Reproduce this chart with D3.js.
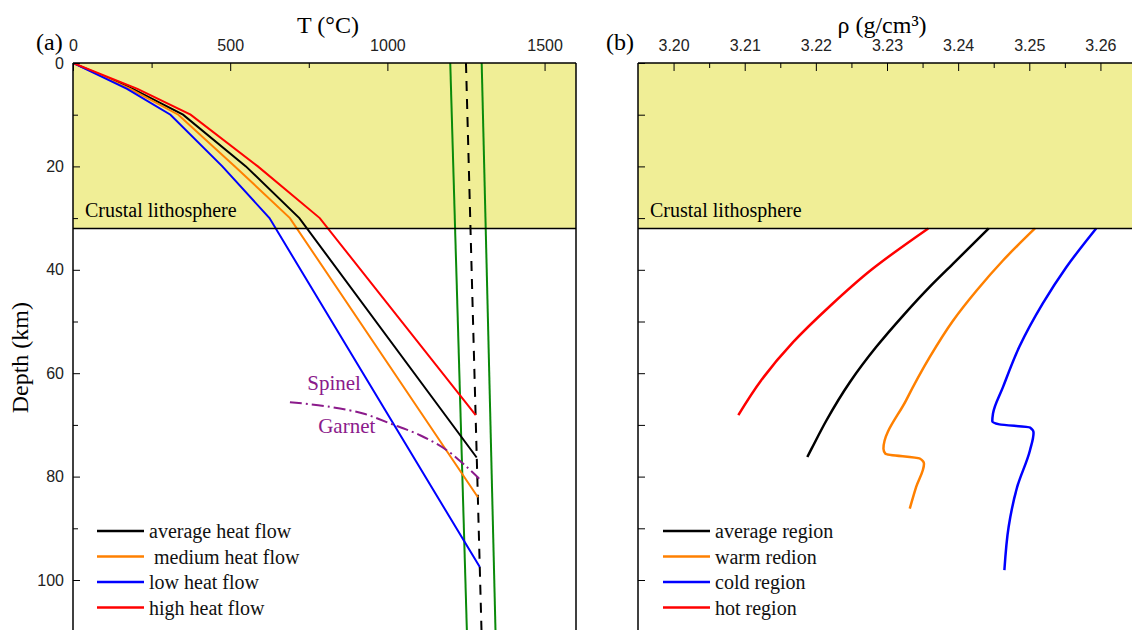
<!DOCTYPE html>
<html>
<head>
<meta charset="utf-8">
<script src="https://cdn.jsdelivr.net/npm/d3@7"></script>
<style>
  body { margin: 0; background: #fff; }
  svg { display: block; }
  .serif { font-family: "Liberation Serif", "Times New Roman", serif; }
  .tick text { font-family: "Liberation Sans", Arial, sans-serif; font-size: 16px; fill: #222; }
  .domain { display: none; }
</style>
</head>
<body>
<div id="chart"></div>
<script>
// ---- panel (a): temperature vs depth ----
const avgDepth  = [0, 5, 10, 20, 30, 76.3];
const avgTemp   = [0, 190, 350, 550, 720, 1284];
const medDepth  = [0, 5, 10, 20, 30, 84];
const medTemp   = [0, 182, 335, 515, 690, 1288];
const lowDepth  = [0, 5, 10, 20, 30, 97.5];
const lowTemp   = [0, 172, 310, 475, 625, 1294];
const highDepth = [0, 5, 10, 20, 30, 68.1];
const highTemp  = [0, 205, 374, 588, 785, 1281];

const spinelDepth = [65.6, 66.5, 67.8, 69.7, 72, 74.9, 78.1, 80.4];
const spinelTemp  = [690, 817, 923, 1008, 1104, 1189, 1252, 1292];

const adiabatDepth = [0, 110];
const adiabatLow   = [1200, 1253];
const adiabatMid   = [1250, 1299.5];
const adiabatHigh  = [1300, 1344];

const heatFlowNames = ['average heat flow', '\u00a0medium heat flow', 'low heat flow', 'high heat flow'];

// ---- panel (b): density vs depth ----
const avgRegDepth  = [32, 38.8, 43.3, 48.8, 54.9, 61.7, 69.1, 74.6, 76.2];
const avgRegRho    = [3.2443, 3.2393, 3.2360, 3.2323, 3.2285, 3.2248, 3.2215, 3.2194, 3.2188];
const warmRegDepth = [32, 38.2, 44, 49.8, 56.9, 65.2, 74.6, 75.6, 76.5, 77.5, 82, 86.2];
const warmRegRho   = [3.2508, 3.2463, 3.2426, 3.2393, 3.2360, 3.2327, 3.2295, 3.2298, 3.2346, 3.2352, 3.2341, 3.2332];
const coldRegDepth = [32, 39.5, 46.5, 54.9, 62.7, 67.8, 69.3, 69.9, 70.5, 71.5, 74.9, 82, 89.7, 98.1];
const coldRegRho   = [3.2594, 3.2552, 3.2519, 3.2486, 3.2463, 3.2449, 3.2448, 3.2458, 3.2501, 3.2506, 3.2501, 3.2483, 3.2471, 3.2465];
const hotRegDepth  = [32, 40, 47, 54, 61.4, 68.1];
const hotRegRho    = [3.2358, 3.2278, 3.2220, 3.2168, 3.2123, 3.2091];

const regionNames = ['average region', 'warm redion', 'cold region', 'hot region'];

const seriesColors = ['#000000', '#ff8000', '#0000ff', '#ff0000'];
const crustDepth = 32;

const tempTicks = [0, 500, 1000, 1500];
const rhoTicks = [3.20, 3.21, 3.22, 3.23, 3.24, 3.25, 3.26];
const depthTicks = [0, 20, 40, 60, 80, 100];

const width = 1132, height = 630;
const svg = d3.select('#chart').append('svg')
    .attr('width', width)
    .attr('height', height);

svg.append('rect').attr('width', width).attr('height', height).attr('fill', '#fff');

const y = d3.scaleLinear().domain([0, 110]).range([63, 63 + 5.17 * 110]);
const xT = d3.scaleLinear().domain([0, 1600]).range([73, 576]);
const xR = d3.scaleLinear().domain([3.195, 3.265]).range([638, 1136]);

const toPts = (ds, vs) => ds.map((d, i) => [vs[i], d]);

function drawPanel(x, id, fmt, majorTicks, minorTicks) {
    const [x0, x1] = x.range();
    const g = svg.append('g');

    g.append('clipPath').attr('id', id)
        .append('rect').attr('x', x0).attr('y', y(0)).attr('width', x1 - x0).attr('height', height - y(0));

    // crust band
    g.append('rect')
        .attr('x', x0).attr('y', y(0))
        .attr('width', x1 - x0).attr('height', y(crustDepth) - y(0))
        .attr('fill', '#f0ee96');

    const plot = g.append('g').attr('clip-path', `url(#${id})`);

    g.append('text')
        .attr('class', 'serif')
        .attr('x', x0 + 12).attr('y', y(crustDepth) - 11)
        .attr('font-size', 20)
        .text('Crustal lithosphere');

    // axes
    g.append('g')
        .attr('transform', `translate(0,${y(0)})`)
        .call(d3.axisTop(x).tickValues(majorTicks).tickFormat(fmt).tickSizeInner(-8).tickSizeOuter(0).tickPadding(12));
    g.append('g')
        .attr('transform', `translate(0,${y(0)})`)
        .call(d3.axisTop(x).tickValues(minorTicks).tickFormat('').tickSizeInner(-5).tickSizeOuter(0));

    return { g, plot, x0, x1 };
}

const minorT = [250, 750, 1250];
const minorR = [3.205, 3.215, 3.225, 3.235, 3.245, 3.255];

const pa = drawPanel(xT, 'clipA', d3.format('d'), tempTicks, minorT);
const pb = drawPanel(xR, 'clipB', d3.format('.2f'), rhoTicks, minorR);

// depth axes
pa.g.append('g')
    .attr('transform', `translate(${pa.x0},0)`)
    .call(d3.axisLeft(y).tickValues(depthTicks).tickSizeInner(-7).tickSizeOuter(0).tickPadding(9));
pa.g.append('g')
    .attr('transform', `translate(${pa.x0},0)`)
    .call(d3.axisLeft(y).tickValues([10, 30, 50, 70, 90, 110]).tickFormat('').tickSizeInner(-5).tickSizeOuter(0));
pb.g.append('g')
    .attr('transform', `translate(${pb.x0},0)`)
    .call(d3.axisLeft(y).tickValues(d3.range(0, 111, 10)).tickFormat('').tickSizeInner(-7).tickSizeOuter(0));

// frames
[pa, pb].forEach(p => {
    p.g.append('line').attr('x1', p.x0).attr('x2', p.x0).attr('y1', y(0)).attr('y2', height).attr('stroke', '#000').attr('stroke-width', 1.5);
    p.g.append('line').attr('x1', p.x1).attr('x2', p.x1).attr('y1', y(0)).attr('y2', height).attr('stroke', '#000').attr('stroke-width', 1.5);
    p.g.append('line').attr('x1', p.x0).attr('x2', p.x1).attr('y1', y(0)).attr('y2', y(0)).attr('stroke', '#000').attr('stroke-width', 1.5);
    p.g.append('line').attr('x1', p.x0).attr('x2', p.x1).attr('y1', y(crustDepth)).attr('y2', y(crustDepth)).attr('stroke', '#000').attr('stroke-width', 1.5);
});

// panel (a) lines
const lineT = d3.line().x(d => xT(d[0])).y(d => y(d[1]));

pa.plot.append('path').datum(toPts(adiabatDepth, adiabatLow))
    .attr('d', lineT).attr('fill', 'none').attr('stroke', '#0a8a0a').attr('stroke-width', 2);
pa.plot.append('path').datum(toPts(adiabatDepth, adiabatHigh))
    .attr('d', lineT).attr('fill', 'none').attr('stroke', '#0a8a0a').attr('stroke-width', 2);
pa.plot.append('path').datum(toPts(adiabatDepth, adiabatMid))
    .attr('d', lineT).attr('fill', 'none').attr('stroke', '#000').attr('stroke-width', 2)
    .attr('stroke-dasharray', '10,8');

const heatFlow = [
    toPts(avgDepth, avgTemp),
    toPts(medDepth, medTemp),
    toPts(lowDepth, lowTemp),
    toPts(highDepth, highTemp)
];
heatFlow.forEach((pts, i) => {
    pa.plot.append('path').datum(pts)
        .attr('d', lineT).attr('fill', 'none')
        .attr('stroke', seriesColors[i]).attr('stroke-width', 2);
});

pa.plot.append('path').datum(toPts(spinelDepth, spinelTemp))
    .attr('d', lineT.curve(d3.curveCatmullRom))
    .attr('fill', 'none').attr('stroke', '#8b1a8b').attr('stroke-width', 2)
    .attr('stroke-dasharray', '12,4,2,4');
lineT.curve(d3.curveLinear);

pa.g.append('text').attr('class', 'serif').attr('x', xT(745)).attr('y', y(63.3))
    .attr('font-size', 21).attr('fill', '#8b1a8b').text('Spinel');
pa.g.append('text').attr('class', 'serif').attr('x', xT(780)).attr('y', y(71.5))
    .attr('font-size', 21).attr('fill', '#8b1a8b').text('Garnet');

// panel (b) lines
const lineR = d3.line().x(d => xR(d[0])).y(d => y(d[1])).curve(d3.curveMonotoneY);
const regions = [
    toPts(avgRegDepth, avgRegRho),
    toPts(warmRegDepth, warmRegRho),
    toPts(coldRegDepth, coldRegRho),
    toPts(hotRegDepth, hotRegRho)
];
regions.forEach((pts, i) => {
    pb.plot.append('path').datum(pts)
        .attr('d', lineR).attr('fill', 'none')
        .attr('stroke', seriesColors[i]).attr('stroke-width', 2.5);
});

// legends
function legend(x0, names) {
    const lg = svg.append('g');
    names.forEach((n, i) => {
        const yy = 531 + i * 25.5;
        lg.append('line').attr('x1', x0).attr('x2', x0 + 47).attr('y1', yy).attr('y2', yy)
            .attr('stroke', seriesColors[i]).attr('stroke-width', 2.5);
        lg.append('text').attr('class', 'serif').attr('x', x0 + 52).attr('y', yy + 7)
            .attr('font-size', 20).attr('fill', '#111').text(n);
    });
}
legend(97, heatFlowNames);
legend(663, regionNames);

// titles
svg.append('text').attr('class', 'serif').attr('x', 328).attr('y', 33)
    .attr('text-anchor', 'middle').attr('font-size', 24).text('T (°C)');
svg.append('text').attr('class', 'serif').attr('x', 882).attr('y', 33)
    .attr('text-anchor', 'middle').attr('font-size', 24).text('ρ (g/cm³)');
svg.append('text').attr('class', 'serif').attr('x', 36).attr('y', 50)
    .attr('font-size', 24).text('(a)');
svg.append('text').attr('class', 'serif').attr('x', 606).attr('y', 50)
    .attr('font-size', 24).text('(b)');
svg.append('text').attr('class', 'serif')
    .attr('transform', `translate(28,${y(57)}) rotate(-90)`)
    .attr('text-anchor', 'middle').attr('font-size', 24).text('Depth (km)');
</script>
</body>
</html>
